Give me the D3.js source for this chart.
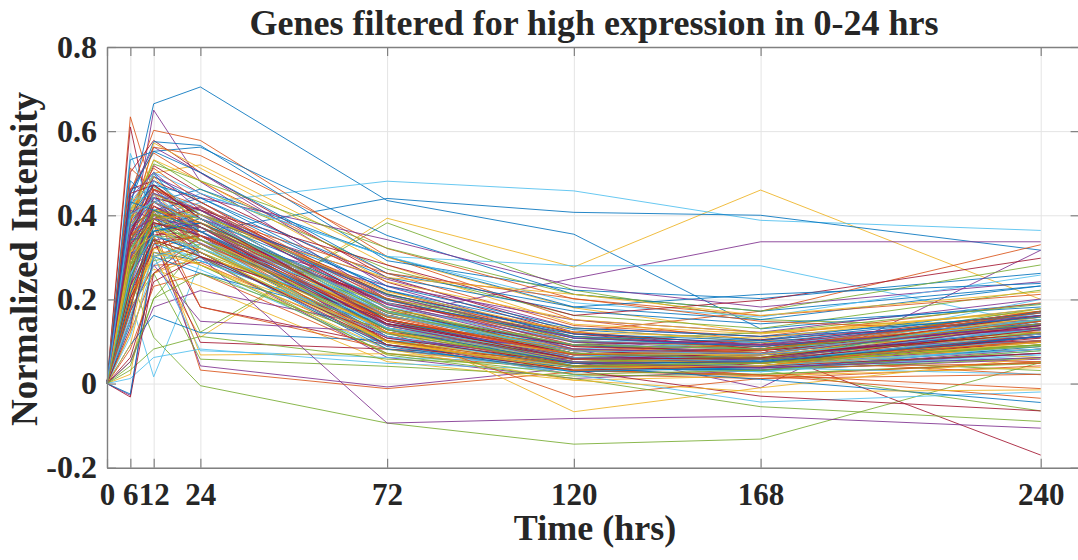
<!DOCTYPE html>
<html>
<head>
<meta charset="utf-8">
<script src="https://cdn.jsdelivr.net/npm/d3@7"></script>
<style>
  html, body { margin: 0; padding: 0; background: #ffffff; }
  svg { display: block; }
  text { font-family: "Liberation Serif", "Times New Roman", serif; font-weight: bold; fill: #262626; }
</style>
</head>
<body>
<svg id="chart" width="1078" height="560"></svg>
<script>
// ---------- data ----------
const timePoints = [0, 6, 12, 24, 72, 120, 168, 240];
const xTickValues = [0, 6, 12, 24, 72, 120, 168, 240];
const xTickLabels = ["0", "6", "12", "24", "72", "120", "168", "240"];
const yTickValues = [-0.2, 0, 0.2, 0.4, 0.6, 0.8];
const yTickLabels = ["-0.2", "0", "0.2", "0.4", "0.6", "0.8"];
const colorOrder = ["#0072BD", "#D95319", "#EDB120", "#7E2F8E", "#77AC30", "#4DBEEE", "#A2142F"];
const titleText = "Genes filtered for high expression in 0-24 hrs";
const xLabelText = "Time (hrs)";
const yLabelText = "Normalized Intensity";

// normalized intensity per gene at the time points above
const geneSeries = [
  [0, 0.420, 0.665, 0.705, 0.435, 0.355, 0.130, 0.190],
  [0, 0.634, 0.452, 0.402, 0.221, 0.102, 0.062, 0.052],
  [0, 0.202, 0.302, 0.110, 0.393, 0.277, 0.460, 0.200],
  [0, 0.322, 0.650, 0.480, 0.200, 0.100, 0.080, 0.100],
  [0, 0.250, 0.110, -0.005, -0.094, -0.144, -0.132, 0.050],
  [0, 0.300, 0.400, 0.430, 0.481, 0.458, 0.388, 0.364],
  [0, 0.610, 0.352, 0.362, 0.152, 0.062, 0.052, 0.082],
  [0, 0.350, 0.500, 0.360, 0.440, 0.407, 0.400, 0.317],
  [0, 0.452, 0.602, 0.578, 0.302, 0.152, 0.102, 0.122],
  [0, 0.400, 0.500, 0.520, 0.300, 0.180, 0.120, 0.160],
  [0, 0.250, 0.400, 0.300, 0.160, 0.250, 0.337, 0.337],
  [0, 0.152, 0.352, 0.122, 0.382, 0.222, 0.152, 0.132],
  [0, 0.547, 0.402, 0.452, 0.302, 0.280, 0.280, 0.140],
  [0, 0.502, 0.578, 0.502, 0.252, 0.122, 0.082, 0.102],
  [0, 0.432, 0.575, 0.566, 0.292, 0.222, 0.202, 0.262],
  [0, 0.302, 0.422, 0.352, 0.202, 0.122, 0.172, 0.330],
  [0, 0.022, 0.302, 0.332, 0.142, 0.092, 0.072, 0.152],
  [0, -0.028, 0.302, 0.342, 0.202, 0.082, -0.010, 0.317],
  [0, 0.052, 0.202, 0.332, 0.102, 0.052, 0.032, -0.065],
  [0, 0.200, 0.016, 0.290, 0.200, 0.100, 0.070, 0.200],
  [0, 0.292, 0.382, 0.182, 0.092, 0.042, 0.082, -0.170],
  [0, 0.532, 0.552, 0.562, 0.352, 0.212, 0.172, 0.232],
  [0, 0.242, 0.382, 0.032, -0.012, 0.028, 0.041, 0.082],
  [0, 0.352, 0.421, 0.383, 0.182, 0.081, 0.062, 0.118],
  [0, 0.281, 0.362, 0.334, 0.148, 0.058, 0.041, 0.092],
  [0, 0.412, 0.468, 0.401, 0.214, 0.102, 0.083, 0.151],
  [0, 0.224, 0.331, 0.298, 0.121, 0.043, 0.032, 0.071],
  [0, 0.383, 0.518, 0.452, 0.241, 0.118, 0.094, 0.168],
  [0, 0.312, 0.402, 0.361, 0.163, 0.072, 0.054, 0.113],
  [0, 0.462, 0.548, 0.481, 0.262, 0.138, 0.112, 0.192],
  [0, 0.192, 0.301, 0.342, 0.131, 0.052, 0.043, 0.082],
  [0, 0.331, 0.442, 0.413, 0.201, 0.091, 0.071, 0.142],
  [0, 0.251, 0.382, 0.312, 0.102, 0.031, 0.022, 0.051],
  [0, 0.402, 0.351, 0.322, 0.172, 0.082, 0.098, 0.128],
  [0, 0.292, 0.461, 0.372, 0.191, 0.112, 0.087, 0.161],
  [0, 0.362, 0.492, 0.431, 0.222, 0.128, 0.104, 0.178],
  [0, 0.172, 0.281, 0.288, 0.092, 0.022, 0.012, 0.042],
  [0, 0.441, 0.412, 0.392, 0.138, 0.052, 0.061, 0.101],
  [0, 0.272, 0.342, 0.352, 0.232, 0.151, 0.122, 0.201],
  [0, 0.392, 0.531, 0.462, 0.272, 0.162, 0.131, 0.222],
  [0, 0.231, 0.312, 0.271, 0.081, 0.028, 0.041, 0.061],
  [0, 0.342, 0.392, 0.421, 0.178, 0.062, 0.052, 0.112],
  [0, 0.482, 0.432, 0.372, 0.161, 0.092, 0.071, 0.141],
  [0, 0.122, 0.262, 0.322, 0.112, 0.041, 0.058, 0.021],
  [0, 0.352, 0.572, 0.512, 0.282, 0.141, 0.118, 0.171],
  [0, 0.301, 0.372, 0.301, 0.062, 0.012, 0.031, 0.082],
  [0, 0.262, 0.452, 0.402, 0.211, 0.098, 0.061, 0.031],
  [0, 0.431, 0.502, 0.361, 0.142, 0.068, 0.052, 0.158],
  [0, 0.202, 0.352, 0.381, 0.192, 0.118, 0.082, 0.132],
  [0, 0.372, 0.412, 0.441, 0.252, 0.172, 0.142, 0.182],
  [0, 0.082, 0.231, 0.262, 0.071, 0.032, 0.021, -0.012],
  [0, 0.322, 0.382, 0.282, 0.101, 0.051, 0.038, 0.092],
  [0, 0.452, 0.562, 0.501, 0.231, 0.108, 0.092, 0.128],
  [0, 0.241, 0.292, 0.312, 0.142, 0.082, 0.071, 0.171],
  [0, 0.392, 0.471, 0.342, 0.132, 0.042, 0.028, 0.068],
  [0, 0.152, 0.332, 0.352, 0.168, 0.092, 0.104, 0.152],
  [0, 0.312, 0.432, 0.462, 0.302, 0.182, 0.152, 0.232],
  [0, 0.512, 0.462, 0.412, 0.191, 0.088, 0.069, 0.118],
  [0, 0.221, 0.272, 0.232, 0.052, 0.008, 0.018, 0.038],
  [0, 0.362, 0.452, 0.392, 0.248, 0.132, 0.112, 0.141],
  [0, 0.292, 0.352, 0.342, 0.158, 0.102, 0.121, 0.188],
  [0, 0.422, 0.382, 0.351, 0.118, 0.038, 0.031, 0.078],
  [0, 0.182, 0.392, 0.418, 0.212, 0.122, 0.091, 0.109],
  [0, 0.332, 0.482, 0.392, 0.172, 0.078, 0.062, 0.128],
  [0, 0.272, 0.321, 0.352, 0.092, 0.048, 0.068, 0.162],
  [0, 0.402, 0.532, 0.482, 0.242, 0.152, 0.121, 0.172],
  [0, 0.052, 0.182, 0.221, 0.132, 0.068, 0.052, 0.098],
  [0, 0.352, 0.362, 0.372, 0.202, 0.112, 0.081, 0.121],
  [0, 0.252, 0.412, 0.332, 0.122, 0.058, 0.048, 0.082],
  [0, 0.462, 0.482, 0.432, 0.182, 0.072, 0.058, 0.098],
  [0, 0.312, 0.302, 0.262, 0.142, 0.092, 0.082, 0.148],
  [0, 0.382, 0.562, 0.542, 0.321, 0.201, 0.161, 0.212],
  [0, 0.212, 0.262, 0.302, 0.172, 0.132, 0.098, 0.062],
  [0, 0.302, 0.351, 0.042, -0.008, 0.038, 0.032, 0.058],
  [0, 0.182, 0.262, 0.058, 0.041, 0.018, 0.022, 0.048],
  [0, 0.152, 0.302, 0.078, 0.062, 0.048, 0.038, 0.072],
  [0, 0.212, 0.342, 0.098, 0.082, 0.058, 0.048, 0.112],
  [0, 0.092, 0.162, 0.121, 0.102, 0.072, 0.061, 0.128],
  [0, 0.262, 0.412, 0.182, 0.082, 0.031, 0.018, 0.052],
  [0, 0.122, 0.352, 0.068, 0.071, 0.052, 0.062, 0.092],
  [0, 0.172, 0.282, 0.148, 0.122, 0.082, 0.071, 0.142],
  [0, 0.032, 0.082, 0.112, 0.058, 0.041, 0.031, 0.061],
  [0, 0.012, 0.062, 0.082, 0.048, 0.032, 0.038, 0.022],
  [0, -0.032, 0.262, 0.352, 0.152, 0.072, 0.058, 0.102],
  [0, -0.025, 0.312, 0.292, 0.132, 0.058, 0.048, 0.118],
  [0, 0.282, 0.402, 0.372, 0.122, -0.032, 0.012, 0.022],
  [0, 0.331, 0.452, 0.392, 0.142, -0.067, -0.010, 0.062],
  [0, 0.352, 0.452, 0.302, -0.094, -0.083, -0.078, -0.106],
  [0, 0.222, 0.342, 0.302, 0.068, 0.012, -0.055, -0.090],
  [0, 0.262, 0.372, 0.342, 0.092, 0.021, -0.044, -0.020],
  [0, 0.302, 0.382, 0.362, 0.102, 0.031, -0.030, -0.065],
  [0, 0.282, 0.392, 0.352, 0.112, 0.041, 0.010, -0.045],
  [0, 0.312, 0.402, 0.382, 0.132, 0.052, 0.020, -0.035],
  [0, 0.192, 0.312, 0.282, 0.082, 0.008, -0.020, -0.015],
  [0, 0.352, 0.492, 0.442, 0.342, 0.231, 0.182, 0.242],
  [0, 0.412, 0.522, 0.482, 0.322, 0.212, 0.172, 0.282],
  [0, 0.372, 0.502, 0.452, 0.302, 0.192, 0.158, 0.258],
  [0, 0.322, 0.442, 0.412, 0.282, 0.162, 0.198, 0.298],
  [0, 0.452, 0.552, 0.502, 0.262, 0.182, 0.212, 0.238],
  [0, 0.392, 0.472, 0.402, 0.262, 0.202, 0.148, 0.122],
  [0, 0.282, 0.412, 0.382, 0.252, 0.212, 0.162, 0.218],
  [0, 0.372, 0.432, 0.352, 0.108, 0.058, 0.072, 0.152],
  [0, 0.262, 0.392, 0.412, 0.152, 0.048, 0.041, 0.132],
  [0, 0.432, 0.452, 0.362, 0.171, 0.062, 0.052, 0.168],
  [0, 0.202, 0.322, 0.372, 0.122, 0.071, 0.082, 0.172],
  [0, 0.342, 0.412, 0.332, 0.092, 0.038, 0.048, 0.148],
  [0, 0.292, 0.432, 0.392, 0.162, 0.078, 0.092, 0.158],
  [0, 0.412, 0.492, 0.372, 0.142, 0.048, 0.062, 0.162],
  [0, 0.232, 0.382, 0.352, 0.112, 0.052, 0.058, 0.138],
  [0, 0.382, 0.402, 0.322, 0.132, 0.062, 0.078, 0.178],
  [0, 0.312, 0.452, 0.422, 0.192, 0.082, 0.071, 0.152],
  [0, 0.452, 0.472, 0.392, 0.152, 0.072, 0.042, 0.102],
  [0, 0.182, 0.352, 0.312, 0.082, 0.038, 0.032, 0.088],
  [0, 0.352, 0.382, 0.362, 0.121, 0.042, 0.038, 0.048],
  [0, 0.272, 0.412, 0.332, 0.098, 0.031, 0.052, 0.128],
  [0, 0.402, 0.442, 0.372, 0.162, 0.082, 0.068, 0.112],
  [0, 0.322, 0.372, 0.342, 0.142, 0.052, 0.048, 0.092],
  [0, 0.242, 0.332, 0.292, 0.132, 0.068, 0.058, 0.102],
  [0, 0.362, 0.462, 0.402, 0.172, 0.088, 0.078, 0.138],
  [0, 0.292, 0.362, 0.382, 0.152, 0.058, 0.052, 0.172],
  [0, 0.422, 0.512, 0.432, 0.202, 0.092, 0.082, 0.152],
  [0, 0.212, 0.302, 0.322, 0.101, 0.032, 0.042, 0.122],
  [0, 0.332, 0.402, 0.352, 0.128, 0.048, 0.036, 0.072],
  [0, 0.392, 0.432, 0.382, 0.181, 0.071, 0.061, 0.121],
  [0, 0.302, 0.382, 0.302, 0.112, 0.038, 0.028, 0.092],
  [0, 0.262, 0.422, 0.362, 0.138, 0.058, 0.071, 0.162],
  [0, 0.342, 0.352, 0.312, 0.088, 0.028, 0.038, 0.112],
  [0, 0.372, 0.462, 0.422, 0.198, 0.102, 0.088, 0.148],
  [0, 0.222, 0.362, 0.342, 0.162, 0.082, 0.062, 0.098],
  [0, 0.412, 0.392, 0.402, 0.142, 0.062, 0.058, 0.132],
  [0, 0.282, 0.342, 0.282, 0.072, 0.022, 0.032, 0.078],
  [0, 0.112, 0.282, 0.342, 0.182, 0.102, 0.092, 0.152],
  [0, 0.062, 0.242, 0.302, 0.152, 0.072, 0.068, 0.118],
  [0, 0.142, 0.362, 0.392, 0.212, 0.118, 0.102, 0.168],
  [0, 0.172, 0.412, 0.372, 0.162, 0.062, 0.048, 0.102],
  [0, 0.092, 0.322, 0.282, 0.122, 0.052, 0.062, 0.142],
  [0, 0.232, 0.442, 0.352, 0.142, 0.072, 0.058, 0.112],
  [0, 0.042, 0.202, 0.262, 0.102, 0.042, 0.052, 0.088],
  [0, 0.162, 0.302, 0.332, 0.172, 0.092, 0.082, 0.128],
  [0, 0.132, 0.392, 0.312, 0.092, 0.032, 0.041, 0.072],
  [0, 0.212, 0.372, 0.402, 0.232, 0.132, 0.112, 0.162],
  [0, 0.352, 0.402, 0.332, 0.152, 0.068, 0.082, 0.172],
  [0, 0.392, 0.452, 0.352, 0.122, 0.058, 0.048, 0.092],
  [0, 0.302, 0.422, 0.372, 0.188, 0.098, 0.092, 0.162],
  [0, 0.272, 0.392, 0.322, 0.118, 0.052, 0.062, 0.152],
  [0, 0.422, 0.482, 0.402, 0.172, 0.072, 0.068, 0.128],
  [0, 0.332, 0.382, 0.352, 0.142, 0.062, 0.052, 0.108],
  [0, 0.252, 0.362, 0.382, 0.198, 0.108, 0.088, 0.138],
  [0, 0.362, 0.422, 0.342, 0.102, 0.042, 0.041, 0.118],
  [0, 0.312, 0.352, 0.322, 0.128, 0.072, 0.068, 0.158],
  [0, 0.442, 0.502, 0.412, 0.188, 0.082, 0.072, 0.142],
  [0, 0.282, 0.412, 0.392, 0.168, 0.072, 0.058, 0.092],
  [0, 0.372, 0.442, 0.362, 0.132, 0.052, 0.042, 0.082],
  [0, 0.232, 0.342, 0.302, 0.108, 0.048, 0.052, 0.128],
  [0, 0.402, 0.472, 0.442, 0.222, 0.112, 0.098, 0.158],
  [0, 0.342, 0.432, 0.382, 0.158, 0.068, 0.078, 0.168],
  [0, 0.292, 0.372, 0.312, 0.098, 0.038, 0.042, 0.098],
  [0, 0.382, 0.452, 0.412, 0.208, 0.108, 0.092, 0.132],
  [0, 0.322, 0.402, 0.372, 0.172, 0.092, 0.082, 0.142],
  [0, 0.262, 0.352, 0.322, 0.138, 0.062, 0.052, 0.118],
  [0, 0.352, 0.472, 0.392, 0.148, 0.058, 0.061, 0.138],
  [0, 0.432, 0.412, 0.362, 0.128, 0.048, 0.052, 0.112],
  [0, 0.192, 0.332, 0.352, 0.152, 0.078, 0.072, 0.148],
  [0, 0.312, 0.392, 0.402, 0.218, 0.122, 0.108, 0.178],
  [0, 0.362, 0.392, 0.372, 0.138, 0.052, 0.038, 0.062],
  [0, 0.242, 0.402, 0.342, 0.128, 0.042, 0.048, 0.092],
  [0, 0.402, 0.432, 0.392, 0.162, 0.078, 0.071, 0.152]
];

// ---------- layout ----------
const svg = d3.select("#chart");
const plotLeft = 107, plotRight = 1079.6, plotTop = 47, plotBottom = 467.7;

const x = d3.scaleLinear().domain([0, 250]).range([plotLeft, plotRight]);
const y = d3.scaleLinear().domain([-0.2, 0.8]).range([plotBottom, plotTop]);

// grid
const gridColor = "#e4e4e4";
svg.append("g")
  .attr("transform", `translate(0,${plotBottom})`)
  .call(d3.axisBottom(x).tickValues(xTickValues).tickSize(-(plotBottom - plotTop)).tickFormat(""))
  .call(g => g.select(".domain").remove())
  .call(g => g.selectAll("line").attr("stroke", gridColor).attr("stroke-width", 1));
svg.append("g")
  .attr("transform", `translate(${plotLeft},0)`)
  .call(d3.axisLeft(y).tickValues(yTickValues).tickSize(-(plotRight - plotLeft)).tickFormat(""))
  .call(g => g.select(".domain").remove())
  .call(g => g.selectAll("line").attr("stroke", gridColor).attr("stroke-width", 1));

// lines
const line = d3.line()
  .x((d, i) => x(timePoints[i]))
  .y(d => y(d));

svg.append("g")
  .selectAll("path")
  .data(geneSeries)
  .join("path")
  .attr("d", line)
  .attr("fill", "none")
  .attr("stroke", (d, i) => colorOrder[i % colorOrder.length])
  .attr("stroke-width", 1)
  .attr("stroke-opacity", 0.85)
  .attr("stroke-linejoin", "round");

// axes
const axisColor = "#808080";
const tickLen = 9;
function styleAxis(g) {
  g.select(".domain").attr("stroke", axisColor).attr("stroke-width", 1.4);
  g.selectAll(".tick line").attr("stroke", axisColor).attr("stroke-width", 1.2);
  g.selectAll("text")
    .attr("font-family", '"Liberation Serif", "Times New Roman", serif')
    .attr("font-weight", "bold")
    .attr("fill", "#262626");
}

svg.append("g")
  .attr("transform", `translate(0,${plotBottom})`)
  .call(d3.axisBottom(x).tickValues(xTickValues)
    .tickFormat((d, i) => xTickLabels[i])
    .tickSizeInner(-tickLen).tickSizeOuter(0).tickPadding(15))
  .call(styleAxis)
  .call(g => g.selectAll("text").attr("font-size", 31));

svg.append("g")
  .attr("transform", `translate(0,${plotTop})`)
  .call(d3.axisTop(x).tickValues(xTickValues).tickFormat("")
    .tickSizeInner(-tickLen).tickSizeOuter(0))
  .call(styleAxis);

svg.append("g")
  .attr("transform", `translate(${plotLeft},0)`)
  .call(d3.axisLeft(y).tickValues(yTickValues)
    .tickFormat((d, i) => yTickLabels[i])
    .tickSizeInner(-tickLen).tickSizeOuter(0).tickPadding(10))
  .call(styleAxis)
  .call(g => g.selectAll("text").attr("font-size", 32));

svg.append("g")
  .attr("transform", `translate(${plotRight},0)`)
  .call(d3.axisRight(y).tickValues(yTickValues).tickFormat("")
    .tickSizeInner(-tickLen).tickSizeOuter(0))
  .call(styleAxis);

// title and labels
svg.append("text")
  .attr("x", 594).attr("y", 35)
  .attr("text-anchor", "middle")
  .attr("font-size", 36)
  .text(titleText);

svg.append("text")
  .attr("x", 595).attr("y", 540)
  .attr("text-anchor", "middle")
  .attr("font-size", 36)
  .text(xLabelText);

svg.append("text")
  .attr("transform", `translate(37,259) rotate(-90)`)
  .attr("text-anchor", "middle")
  .attr("font-size", 37)
  .text(yLabelText);
</script>
</body>
</html>
